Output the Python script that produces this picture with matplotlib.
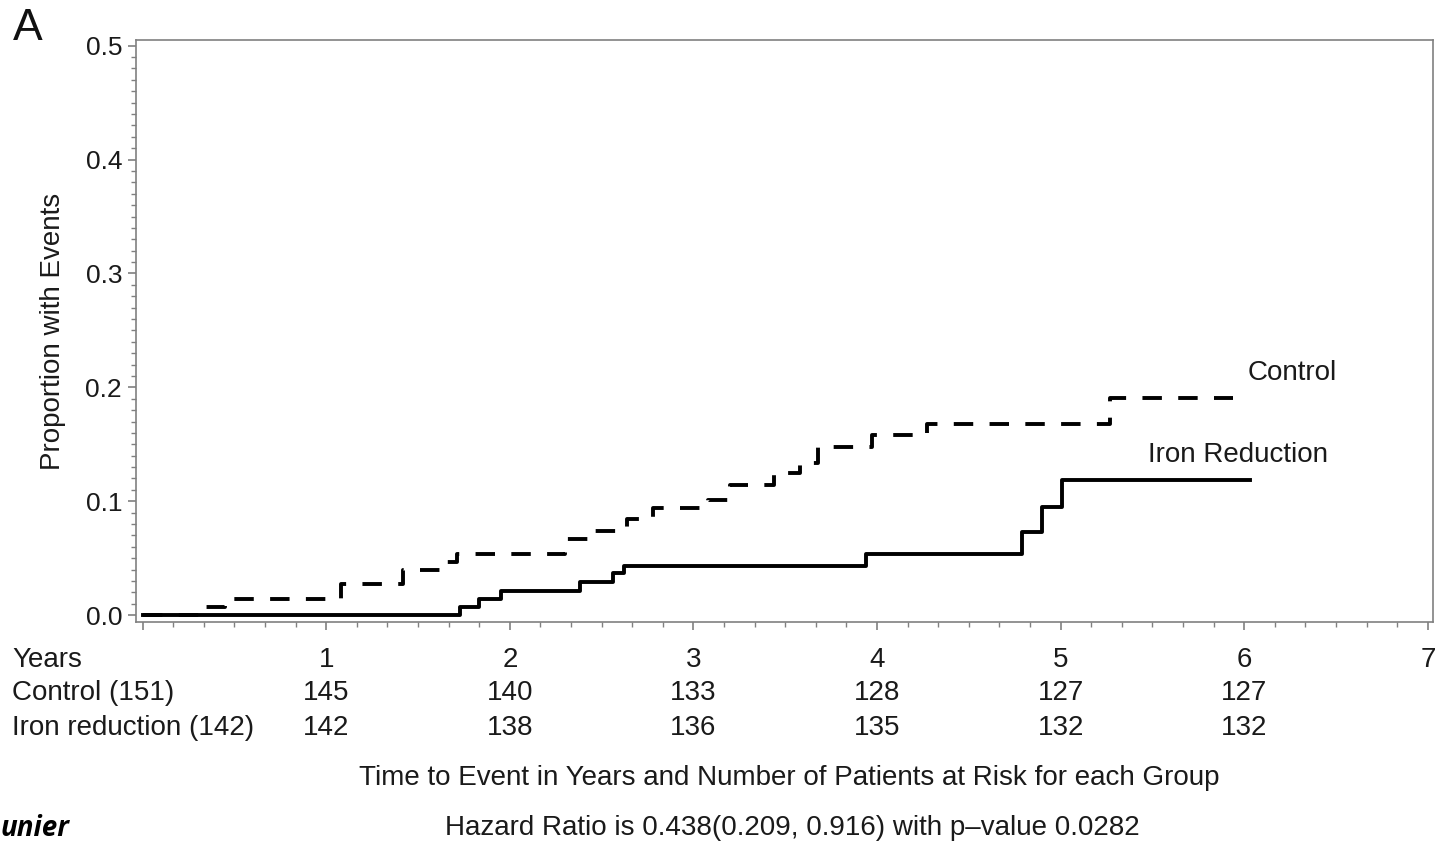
import matplotlib.pyplot as plt
import matplotlib.transforms as mtransforms
import numpy as np

# ---------------------------------------
# Data
# ---------------------------------------
ctrl_times = [0.0, 0.31, 0.45, 1.08, 1.42, 1.62, 1.71, 2.30, 2.46, 2.64, 2.78,
              3.08, 3.20, 3.44, 3.58, 3.68, 3.97, 4.27, 5.27, 5.94]
ctrl_props = [0.0, 0.007, 0.014, 0.027, 0.040, 0.047, 0.054, 0.067, 0.074, 0.084, 0.094,
              0.101, 0.114, 0.125, 0.134, 0.148, 0.158, 0.168, 0.191, 0.191]

iron_times = [0.0, 1.73, 1.83, 1.95, 2.38, 2.56, 2.62, 3.94, 4.79, 4.90, 5.01, 6.03]
iron_props = [0.0, 0.007, 0.014, 0.021, 0.029, 0.037, 0.043, 0.054, 0.073, 0.095, 0.119, 0.119]

years = [1, 2, 3, 4, 5, 6, 7]
ctrl_at_risk = [145, 140, 133, 128, 127, 127]
iron_at_risk = [142, 138, 136, 135, 132, 132]

row_labels = ["Years", "Control (151)", "Iron reduction (142)"]

# ---------------------------------------
# Figure
# ---------------------------------------
plt.rcParams['font.family'] = ['Liberation Sans', 'DejaVu Sans']
W, H = 1441, 842
fig = plt.figure(figsize=(W / 100, H / 100), dpi=100)
ax = fig.add_axes([136 / W, 1 - 622 / H, (1433 - 136) / W, (622 - 40) / H])

ax.step(ctrl_times, ctrl_props, where='post', color='black', lw=2.8,
        dashes=(5, 4.2), dash_capstyle='butt')
ax.step(iron_times, iron_props, where='post', color='black', lw=2.8)

ax.set_xlim(-0.036, 7.028)
ax.set_ylim(-0.006, 0.505)

ax.set_xticks([0] + years)
ax.set_xticklabels([])
ax.set_xticks(np.arange(0, 7.01, 1 / 6), minor=True)
ax.set_yticks([0.0, 0.1, 0.2, 0.3, 0.4, 0.5])
ax.set_yticklabels(["0.0", "0.1", "0.2", "0.3", "0.4", "0.5"], fontsize=19, color='#1a1a1a')
ax.set_yticks(np.arange(0, 0.501, 0.01), minor=True)

spine_col = '#808080'
for s in ax.spines.values():
    s.set_color(spine_col)
    s.set_linewidth(1.2)
ax.tick_params(which='major', direction='out', length=6, width=1.2, color=spine_col, pad=4)
ax.tick_params(which='minor', direction='out', length=3.5, width=1.0, color=spine_col)

ax.set_ylabel("Proportion with Events", fontsize=20, labelpad=14, color='#1a1a1a')

# curve labels
ax.text(6.02, 0.213, "Control", fontsize=20, va='center', ha='left', color='#1a1a1a')
ax.text(5.475, 0.141, "Iron Reduction", fontsize=20, va='center', ha='left', color='#1a1a1a')

# ---------------------------------------
# Numbers at risk table
# ---------------------------------------
trans = mtransforms.blended_transform_factory(ax.transData, fig.transFigure)
row_y = [1 - 660 / H, 1 - 693 / H, 1 - 728 / H]
for lab, yy in zip(row_labels, row_y):
    fig.text(12 / W, yy, lab, fontsize=20, va='center', ha='left', color='#1a1a1a')
for yr in years:
    ax.text(yr, row_y[0], str(yr), transform=trans, fontsize=20, va='center', ha='center', color='#1a1a1a')
for yr, c, r in zip(years, ctrl_at_risk, iron_at_risk):
    ax.text(yr, row_y[1], str(c), transform=trans, fontsize=20, va='center', ha='center', color='#1a1a1a')
    ax.text(yr, row_y[2], str(r), transform=trans, fontsize=20, va='center', ha='center', color='#1a1a1a')

fig.text(789 / W, 1 - 778 / H, "Time to Event in Years and Number of Patients at Risk for each Group",
         fontsize=20, ha='center', va='center', color='#1a1a1a')
fig.text(792 / W, 1 - 828 / H, "Hazard Ratio is 0.438(0.209, 0.916) with p\u2013value 0.0282",
         fontsize=20, ha='center', va='center', color='#1a1a1a')

fig.text(28 / W, 1 - 28 / H, "A", fontsize=32, ha='center', va='center', color='#111111')
fig.text(1 / W, 1 - 828 / H, "unier", fontsize=20, ha='left', va='center',
         fontweight='bold', fontstyle='italic', family=['Open Sans', 'DejaVu Sans'])

fig.savefig("out.png", dpi=100)
